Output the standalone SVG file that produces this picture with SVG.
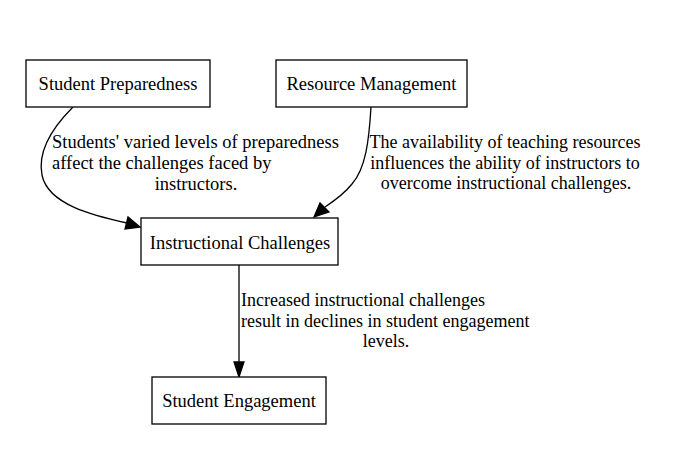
<svg xmlns="http://www.w3.org/2000/svg" width="673" height="451" viewBox="0 0 673 451">
<defs>
<style>
.box{fill:#fff;stroke:#000;stroke-width:1.3}
.t{font-family:'Liberation Serif','Times New Roman',serif;font-size:18.5px;fill:#000}
.s{font-size:18px}
.e{fill:none;stroke:#000;stroke-width:1.3}
.ah{fill:#000;stroke:#000;stroke-width:1.3}
</style>
</defs>
<rect width="673" height="451" fill="#fff"/>
<g id="connectors">
<g id="e1">
<path class="e" d="M73,107 C55,125 37,150 42,175 C48,205 95,216 127,223"/>
<polygon class="ah" points="140,227 125,229 128,217"/>
<text class="t" x="52" y="148">Students' varied levels of preparedness</text>
<text class="t" x="52" y="169">affect the challenges faced by</text>
<text class="t" x="196" y="190" text-anchor="middle">instructors.</text>
</g>
<g id="e2">
<path class="e" d="M371,107 C369,140 366,168 352,184 C344,194 334,201 325,207"/>
<polygon class="ah" points="314,217 320,203 329,212"/>
<text class="t s" x="505" y="148" text-anchor="middle">The availability of teaching resources</text>
<text class="t s" x="505" y="169" text-anchor="middle">influences the ability of instructors to</text>
<text class="t s" x="506" y="189" text-anchor="middle">overcome instructional challenges.</text>
</g>
<g id="e3">
<path class="e" d="M239,265 L239,362"/>
<polygon class="ah" points="239,377 234,362 244,362"/>
<text class="t s" x="241" y="306">Increased instructional challenges</text>
<text class="t s" x="241" y="327">result in declines in student engagement</text>
<text class="t s" x="386" y="347" text-anchor="middle">levels.</text>
</g>
</g>
<g id="student-preparedness">
<rect class="box" x="26" y="60" width="184" height="47"/>
<text class="t" x="118" y="90" text-anchor="middle">Student Preparedness</text>
</g>
<g id="resource-management">
<rect class="box" x="276" y="60" width="191" height="47"/>
<text class="t" x="371.5" y="90" text-anchor="middle">Resource Management</text>
</g>
<g id="instructional-challenges">
<rect class="box" x="141" y="218" width="197" height="47"/>
<text class="t" x="240" y="249" text-anchor="middle">Instructional Challenges</text>
</g>
<g id="student-engagement">
<rect class="box" x="152" y="377" width="174" height="47"/>
<text class="t" x="239" y="407" text-anchor="middle">Student Engagement</text>
</g>
</svg>
